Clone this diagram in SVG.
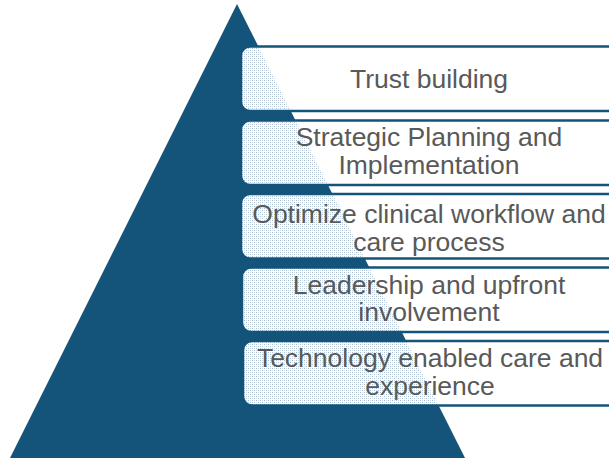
<svg xmlns="http://www.w3.org/2000/svg" width="609" height="459" viewBox="0 0 609 459">
  <style>
    .box { fill: #ffffff; stroke: none; }
    .dots { fill: url(#dither); stroke: none; }
    .edge { fill: none; stroke: #14537a; stroke-width: 2.5; }
    .label { font-family: "Liberation Sans", Arial, sans-serif; font-size: 26.5px; fill: #595959; text-anchor: middle; }
  </style>
  <defs>
    <pattern id="dither" patternUnits="userSpaceOnUse" width="4" height="4">
      <rect x="0" y="0" width="4" height="4" fill="#ffffff"/>
      <rect x="0" y="0" width="1" height="1" fill="#a9bfd1"/>
      <rect x="2" y="2" width="1" height="1" fill="#a9bfd1"/>
      <rect x="2" y="0" width="1" height="1" fill="#d3dee8"/>
      <rect x="0" y="2" width="1" height="1" fill="#d3dee8"/>
    </pattern>
    <clipPath id="tri">
      <polygon points="237,4 10,458 465,458"/>
    </clipPath>
  </defs>

  <g id="pyramid">
    <polygon points="237,4 10,458 465,458" fill="#14537a"/>
  </g>

  <g id="connectors"></g>

  <g id="node-trust">
    <rect class="box" x="241" y="46.5" width="378" height="64.5" rx="9"/>
    <rect class="dots" x="241" y="46.5" width="378" height="64.5" rx="9" clip-path="url(#tri)"/>
    <rect class="edge" x="241" y="46.5" width="378" height="64.5" rx="9"/>
    <text class="label" x="429" y="88">Trust building</text>
  </g>

  <g id="node-strategic">
    <rect class="box" x="241" y="120.5" width="378" height="64.5" rx="9"/>
    <rect class="dots" x="241" y="120.5" width="378" height="64.5" rx="9" clip-path="url(#tri)"/>
    <rect class="edge" x="241" y="120.5" width="378" height="64.5" rx="9"/>
    <text class="label" x="429" y="146">Strategic Planning and</text>
    <text class="label" x="429" y="173.5">Implementation</text>
  </g>

  <g id="node-optimize">
    <rect class="box" x="241" y="194" width="378" height="64.5" rx="9"/>
    <rect class="dots" x="241" y="194" width="378" height="64.5" rx="9" clip-path="url(#tri)"/>
    <rect class="edge" x="241" y="194" width="378" height="64.5" rx="9"/>
    <text class="label" x="429" y="223">Optimize clinical workflow and</text>
    <text class="label" x="429" y="250.5">care process</text>
  </g>

  <g id="node-leadership">
    <rect class="box" x="242" y="267.5" width="378" height="64.5" rx="9"/>
    <rect class="dots" x="242" y="267.5" width="378" height="64.5" rx="9" clip-path="url(#tri)"/>
    <rect class="edge" x="242" y="267.5" width="378" height="64.5" rx="9"/>
    <text class="label" x="429" y="293.5">Leadership and upfront</text>
    <text class="label" x="429" y="321">involvement</text>
  </g>

  <g id="node-technology">
    <rect class="box" x="243" y="341" width="378" height="64.5" rx="9"/>
    <rect class="dots" x="243" y="341" width="378" height="64.5" rx="9" clip-path="url(#tri)"/>
    <rect class="edge" x="243" y="341" width="378" height="64.5" rx="9"/>
    <text class="label" x="430" y="367">Technology enabled care and</text>
    <text class="label" x="430" y="394.5">experience</text>
  </g>
</svg>
